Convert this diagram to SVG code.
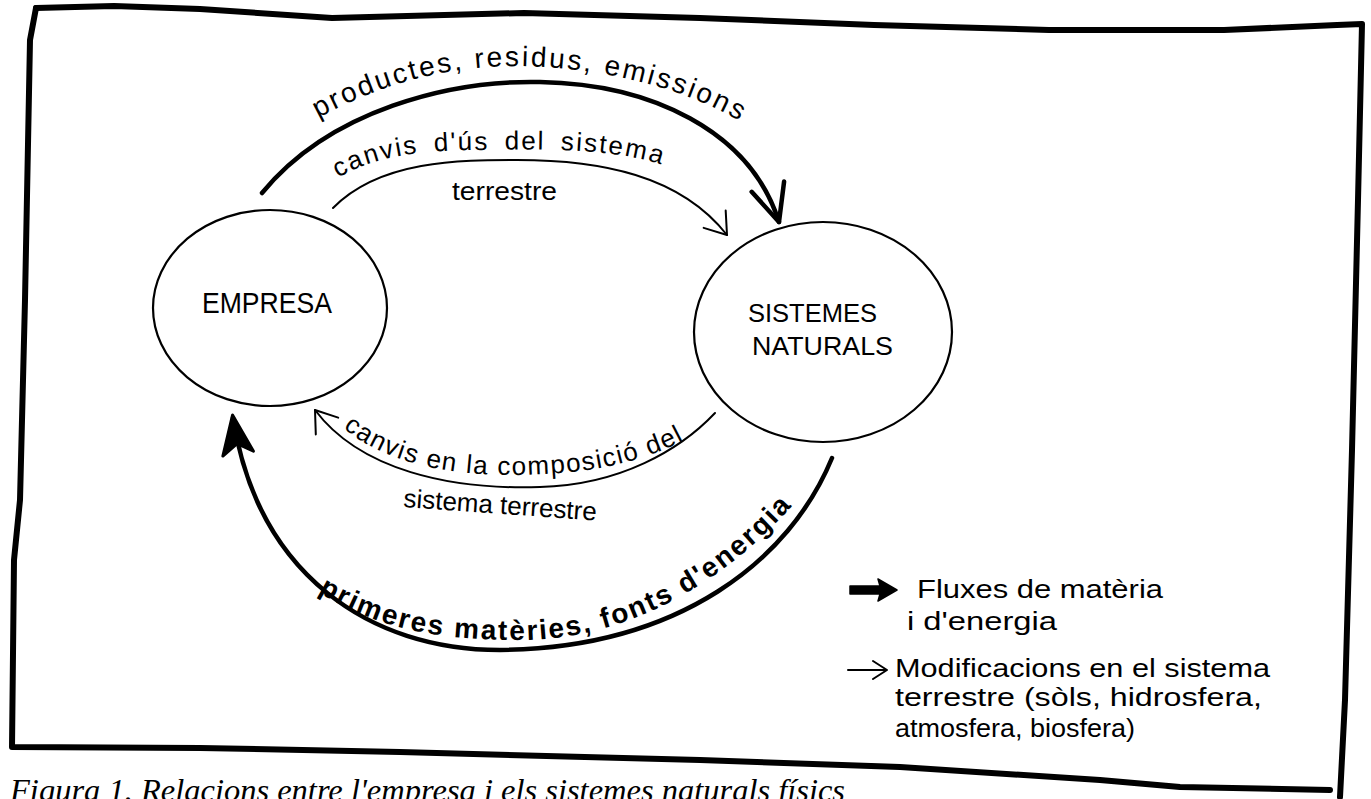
<svg xmlns="http://www.w3.org/2000/svg" width="1371" height="799" viewBox="0 0 1371 799">
<style>
.hand{font-family:'Liberation Sans','DejaVu Sans',sans-serif;fill:#000;}
.caps{font-size:30px;}
.lbl{font-size:26px;}
.big{font-size:28px;}
.bold{font-weight:bold;}
.node{fill:none;stroke:#000;stroke-width:2.2;}
.thick{fill:none;stroke:#000;stroke-width:4.5;stroke-linecap:round;stroke-linejoin:round;}
.thin{fill:none;stroke:#000;stroke-width:2;stroke-linecap:round;stroke-linejoin:round;}
.frame{fill:none;stroke:#000;stroke-width:6;stroke-linejoin:round;stroke-linecap:round;}
.caption{font-family:'Liberation Serif','Times New Roman',serif;font-style:italic;font-size:32.5px;fill:#000;}
</style>
<defs>
<marker id="thinHead" markerUnits="userSpaceOnUse" viewBox="-30 -20 34 40" markerWidth="34" markerHeight="40" refX="0" refY="0" orient="auto" overflow="visible">
<path d="M-20,-14 L0,0 L-20,14" fill="none" stroke="#000" stroke-width="2" stroke-linecap="round" stroke-linejoin="round"/>
</marker>
<marker id="thickV" markerUnits="userSpaceOnUse" viewBox="-45 -25 50 50" markerWidth="50" markerHeight="50" refX="0" refY="0" orient="auto" overflow="visible">
<path d="M-37,-17 L0,0 L-37,17" fill="none" stroke="#000" stroke-width="4.5" stroke-linecap="round" stroke-linejoin="round"/>
</marker>
<marker id="thickHead" markerUnits="userSpaceOnUse" viewBox="-45 -25 50 50" markerWidth="50" markerHeight="50" refX="0" refY="0" orient="auto" overflow="visible">
<path d="M3,0 L-36,-16 L-26,0 L-36,15 Z" fill="#000" stroke="#000" stroke-width="3" stroke-linejoin="round"/>
</marker>
<path id="tpTop" d="M 318,118 C 378,86 440,66 520,66 C 610,68 690,90 748,126"/>
<path id="tpUse" d="M 338,178 C 375,156 420,150 480,150 C 560,148 640,150 683,174"/>
<path id="tpComp" d="M 343,428 C 395,470 470,478 545,474 C 610,471 662,455 698,432"/>
<path id="tpPrim" d="M 318,592 C 380,630 440,640 520,640 C 620,640 720,590 800,497"/>
</defs>

<g id="frame">
<path class="frame" d="M 36,8 L 114,6 L 200,9 L 332,18 L 524,13 L 700,18 L 874,25 L 1049,30 L 1224,30 L 1337,25 L 1362,24 L 1358,200 L 1352,450 L 1345,700 L 1340,797"/>
<path class="frame" d="M 36,8 L 30,40 L 25,300 L 20,500 L 14,560 L 12,747 L 200,748 L 400,752 L 700,760 L 900,767 L 1100,780 L 1180,787 L 1330,790"/>
</g>

<g id="node-empresa">
<ellipse class="node" cx="270" cy="308" rx="117" ry="98"/>
<text class="hand caps" x="202" y="313" textLength="130" lengthAdjust="spacingAndGlyphs">EMPRESA</text>
</g>

<g id="node-sistemes">
<ellipse class="node" cx="823" cy="332" rx="129" ry="110"/>
<text class="hand lbl" x="748" y="322" textLength="129" lengthAdjust="spacingAndGlyphs">SISTEMES</text>
<text class="hand lbl" x="752" y="355" textLength="141" lengthAdjust="spacingAndGlyphs">NATURALS</text>
</g>

<g id="connectors">
<path id="c-productes" class="thick" d="M 262,193 C 330,110 450,80 540,82 C 650,84 750,130 779,222" marker-end="url(#thickV)"/>
<path id="c-us" class="thin" d="M 333,208 C 380,160 460,160 517,160 C 600,160 680,175 727,235" marker-end="url(#thinHead)"/>
<path id="c-composicio" class="thin" d="M 715,413 C 680,450 620,485 540,487 C 450,490 360,470 315,410" marker-end="url(#thinHead)"/>
<path id="c-primeres" class="thick" d="M 832,458 C 790,560 680,648 500,650 C 370,650 258,575 233,418" marker-end="url(#thickHead)"/>
</g>

<g id="labels">
<text class="hand big" letter-spacing="2.5"><textPath href="#tpTop">productes, residus, emissions</textPath></text>
<text class="hand lbl" letter-spacing="2" word-spacing="6"><textPath href="#tpUse">canvis d'ús del sistema</textPath></text>
<text class="hand lbl" x="452" y="200" textLength="105" lengthAdjust="spacingAndGlyphs">terrestre</text>
<text class="hand lbl" letter-spacing="1.5"><textPath href="#tpComp">canvis en la composició del</textPath></text>
<text class="hand lbl" x="403" y="507" transform="rotate(4 403 507)">sistema terrestre</text>
<text class="hand big bold" letter-spacing="2"><textPath href="#tpPrim">primeres matèries, fonts d'energia</textPath></text>
</g>

<g id="legend">
<path d="M 850,586 L 880,586 L 878,579 L 897,590 L 878,601 L 880,594 L 850,594 Z" fill="#000" stroke="#000" stroke-width="1.5" stroke-linejoin="round"/>
<text class="hand lbl" x="917" y="598" textLength="246" lengthAdjust="spacingAndGlyphs">Fluxes de matèria</text>
<text class="hand lbl" x="907" y="630" textLength="150" lengthAdjust="spacingAndGlyphs">i d'energia</text>
<path class="thin" d="M 848,670 L 886,670 M 873,661 L 887,670 L 873,679"/>
<text class="hand lbl" x="895" y="677" textLength="375" lengthAdjust="spacingAndGlyphs">Modificacions en el sistema</text>
<text class="hand lbl" x="895" y="706" textLength="367" lengthAdjust="spacingAndGlyphs">terrestre (sòls, hidrosfera,</text>
<text class="hand lbl" x="895" y="737" textLength="240" lengthAdjust="spacingAndGlyphs">atmosfera, biosfera)</text>
</g>

<text class="caption" x="10" y="801">Figura 1. Relacions entre l'empresa i els sistemes naturals físics</text>
</svg>
